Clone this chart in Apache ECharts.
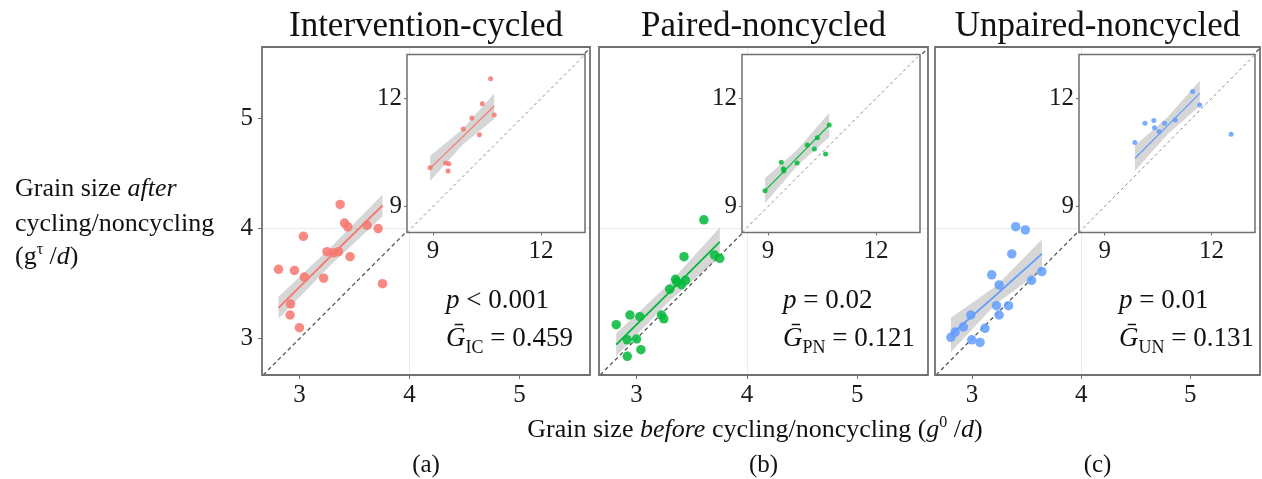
<!DOCTYPE html>
<html><head><meta charset="utf-8">
<script src="https://cdn.jsdelivr.net/npm/echarts@6/dist/echarts.min.js"></script>
<style>html,body{margin:0;padding:0;background:#fff}#c{width:1262px;height:479px}</style>
</head><body><div id="c"></div>
<script>
// ---------- data ----------
const panelTitles = ['Intervention-cycled', 'Paired-noncycled', 'Unpaired-noncycled'];
const panelLetters = ['(a)', '(b)', '(c)'];
const pOps = ['<', '=', '='];
const pVals = ['0.001', '0.02', '0.01'];
const gSubs = ['IC', 'PN', 'UN'];
const gVals = ['0.459', '0.121', '0.131'];
const mainTicks = [3, 4, 5];
const insetTicks = [9, 12];

// main scatter (g0/d, gτ/d)
const aX = [2.81, 2.955, 3.036, 3.045, 2.92, 2.915, 3.0, 3.22, 3.25, 3.31, 3.355, 3.37, 3.41, 3.44, 3.46, 3.615, 3.715, 3.755];
const aY = [3.63, 3.62, 3.93, 3.56, 3.315, 3.215, 3.10, 3.55, 3.79, 3.78, 3.79, 4.22, 4.05, 4.015, 3.745, 4.03, 4.00, 3.50];
const bX = [2.816, 2.94, 3.03, 2.916, 3.0, 2.916, 3.04, 3.226, 3.247, 3.30, 3.353, 3.365, 3.407, 3.443, 3.43, 3.61, 3.706, 3.754];
const bY = [3.127, 3.215, 3.20, 2.99, 2.997, 2.84, 2.90, 3.215, 3.18, 3.45, 3.54, 3.515, 3.49, 3.53, 3.745, 4.08, 3.76, 3.73];
const cX = [2.806, 2.845, 2.92, 2.988, 2.997, 3.073, 3.118, 3.18, 3.248, 3.224, 3.248, 3.334, 3.364, 3.40, 3.488, 3.545, 3.64];
const cY = [3.012, 3.06, 3.106, 3.215, 2.99, 2.966, 3.094, 3.58, 3.488, 3.30, 3.215, 3.30, 3.77, 4.018, 3.988, 3.53, 3.61];

// main fits with confidence band
const aFitX = [2.81, 3.28, 3.755];  const aFitY = [3.28, 3.745, 4.21];  const aLo = [3.18, 3.665, 4.11];  const aHi = [3.38, 3.825, 4.31];
const bFitX = [2.816, 3.285, 3.754]; const bFitY = [2.945, 3.41, 3.88]; const bLo = [2.84, 3.33, 3.74]; const bHi = [3.05, 3.49, 4.01];
const cFitX = [2.806, 3.223, 3.64];  const cFitY = [3.036, 3.40, 3.77];  const cLo = [2.88, 3.32, 3.62];  const cHi = [3.19, 3.48, 3.90];

// inset scatter (larger grains)
const aiX = [8.92, 9.35, 9.44, 9.42, 9.84, 10.08, 10.29, 10.37, 10.60, 10.70];
const aiY = [10.08, 10.21, 10.19, 9.99, 11.15, 11.46, 10.99, 11.85, 12.55, 11.54];
const biX = [8.92, 9.37, 9.43, 9.44, 9.81, 10.09, 10.29, 10.37, 10.60, 10.70];
const biY = [9.44, 10.23, 10.05, 9.99, 10.21, 10.71, 10.60, 10.91, 10.46, 11.26];
const ciX = [9.85, 10.13, 10.38, 10.40, 10.53, 10.68, 10.98, 11.47, 11.67, 12.55];
const ciY = [10.78, 11.31, 11.39, 11.19, 11.08, 11.31, 11.40, 12.19, 11.82, 11.01];

const aiFitX = [8.92, 9.81, 10.70];  const aiFitY = [10.06, 10.92, 11.79]; const aiLo = [9.71, 10.70, 11.43]; const aiHi = [10.40, 11.14, 12.14];
const biFitX = [8.92, 9.81, 10.70];  const biFitY = [9.44, 10.35, 11.26];  const biLo = [9.09, 10.13, 10.92]; const biHi = [9.79, 10.57, 11.60];
const ciFitX = [9.85, 10.76, 11.67]; const ciFitY = [10.34, 11.24, 12.14]; const ciLo = [9.99, 11.00, 11.79]; const ciHi = [10.69, 11.48, 12.49];

// axis ranges
const mainXRange = [2.66, 5.64];
const mainYRange = [2.67, 5.65];
const insetRange = [8.28, 13.22];

// ---------- layout / style ----------
const FONT = "'Liberation Serif', 'Times New Roman', serif";
const colors = ['#F8766D', '#00BA38', '#619CFF'];
const panelLeft = [262, 599, 935];
const panelW = [328, 329, 325];
const panelTop = 47, panelH = 328;
const insetLeft = [407, 742, 1079];
const insetW = [178, 178, 176];
const insetTop = 54.5, insetH = 178;

const mainSets = [
  {x: aX, y: aY, fx: aFitX, fy: aFitY, lo: aLo, hi: aHi},
  {x: bX, y: bY, fx: bFitX, fy: bFitY, lo: bLo, hi: bHi},
  {x: cX, y: cY, fx: cFitX, fy: cFitY, lo: cLo, hi: cHi}
];
const insetSets = [
  {x: aiX, y: aiY, fx: aiFitX, fy: aiFitY, lo: aiLo, hi: aiHi},
  {x: biX, y: biY, fx: biFitX, fy: biFitY, lo: biLo, hi: biHi},
  {x: ciX, y: ciY, fx: ciFitX, fy: ciFitY, lo: ciLo, hi: ciHi}
];

const grids = [], xAxes = [], yAxes = [], series = [], graphics = [];

function labelStyle(extra) {
  return Object.assign({fontFamily: FONT, fontSize: 25, color: '#1a1a1a'}, extra);
}

for (let i = 0; i < 3; i++) {
  grids.push({left: panelLeft[i], top: panelTop, width: panelW[i], height: panelH,
    show: true, backgroundColor: '#fff', borderWidth: 0, z: 0});
  graphics.push({type: 'rect', z: 15, silent: true,
    shape: {x: panelLeft[i], y: panelTop, width: panelW[i], height: panelH},
    style: {fill: null, stroke: '#707070', lineWidth: 1.8}});
  xAxes.push({gridIndex: i, type: 'value', min: mainXRange[0], max: mainXRange[1], splitNumber: 3,
    axisLine: {show: false},
    axisTick: {show: true, length: 4, lineStyle: {color: '#707070'}, customValues: mainTicks},
    axisLabel: labelStyle({margin: 8, customValues: mainTicks,
      formatter: v => mainTicks.includes(v) ? String(v) : ''}),
    splitLine: {show: true, showMinLine: false, showMaxLine: false, lineStyle: {color: '#ebebeb', width: 1}}});
  yAxes.push({gridIndex: i, type: 'value', min: mainYRange[0], max: mainYRange[1], splitNumber: 3,
    axisLine: {show: false},
    axisTick: {show: i === 0, length: 4, lineStyle: {color: '#707070'}, customValues: mainTicks},
    axisLabel: labelStyle({show: i === 0, margin: 9, customValues: mainTicks,
      formatter: v => mainTicks.includes(v) ? String(v) : ''}),
    splitLine: {show: true, showMinLine: false, showMaxLine: false, lineStyle: {color: '#ebebeb', width: 1}}});
}
for (let i = 0; i < 3; i++) {
  grids.push({left: insetLeft[i], top: insetTop, width: insetW[i], height: insetH,
    show: true, backgroundColor: '#fff', borderWidth: 0, z: 5});
  graphics.push({type: 'rect', z: 16, silent: true,
    shape: {x: insetLeft[i], y: insetTop, width: insetW[i], height: insetH},
    style: {fill: null, stroke: '#707070', lineWidth: 1.5}});
  const ax = {gridIndex: 3 + i, type: 'value', min: insetRange[0], max: insetRange[1], splitNumber: 5, z: 6,
    axisLine: {show: false},
    axisTick: {show: true, length: 3, lineStyle: {color: '#707070'}, customValues: insetTicks},
    axisLabel: labelStyle({margin: 6, customValues: insetTicks,
      formatter: v => insetTicks.includes(v) ? String(v) : ''}),
    splitLine: {show: true, showMinLine: false, showMaxLine: false, lineStyle: {color: '#ebebeb', width: 1}}};
  xAxes.push(Object.assign({}, ax));
  yAxes.push(Object.assign({}, ax, {axisLabel: Object.assign({}, ax.axisLabel, {margin: 5})}));
}

function bandSeries(set, idx, z) {
  return {
    type: 'custom', xAxisIndex: idx, yAxisIndex: idx, silent: true, z: z,
    data: set.fx.map((x, k) => [x, set.lo[k], set.hi[k]]),
    encode: {x: 0, y: [1, 2]},
    renderItem: function (params, api) {
      if (params.dataIndex !== 0) return null;
      const pts = [];
      for (let k = 0; k < set.fx.length; k++) pts.push(api.coord([set.fx[k], set.hi[k]]));
      for (let k = set.fx.length - 1; k >= 0; k--) pts.push(api.coord([set.fx[k], set.lo[k]]));
      return {type: 'polygon', shape: {points: pts}, style: {fill: 'rgba(153,153,153,0.4)'}};
    }
  };
}

function addPanelSeries(set, idx, color, isInset, range) {
  const zb = isInset ? 7 : 1;
  const lo = Math.max(range[0][0], range[1][0]), hi = Math.min(range[0][1], range[1][1]);
  series.push({type: 'line', xAxisIndex: idx, yAxisIndex: idx, silent: true, symbol: 'none', z: zb,
    data: [[lo, lo], [hi, hi]],
    lineStyle: isInset ? {color: '#8a8a8a', width: 1, type: [3, 3]} : {color: '#555', width: 1.3, type: [4, 3]}});
  series.push(bandSeries(set, idx, zb + 1));
  series.push({type: 'line', xAxisIndex: idx, yAxisIndex: idx, silent: true, symbol: 'none', z: zb + 2,
    data: set.fx.map((x, k) => [x, set.fy[k]]),
    lineStyle: {color: color, width: isInset ? 1.2 : 1.8}});
  series.push({type: 'scatter', xAxisIndex: idx, yAxisIndex: idx, silent: true, z: zb + 3,
    symbolSize: isInset ? 5 : 9.5,
    data: set.x.map((x, k) => [x, set.y[k]]),
    itemStyle: {color: color, opacity: 0.85}});
}

for (let i = 0; i < 3; i++) {
  addPanelSeries(mainSets[i], i, colors[i], false, [mainXRange, mainYRange]);
  addPanelSeries(insetSets[i], 3 + i, colors[i], true, [insetRange, insetRange]);
}

// ---------- text ----------
for (let i = 0; i < 3; i++) {
  const cx = panelLeft[i] + panelW[i] / 2;
  graphics.push({type: 'text', x: cx, y: 27, z: 20,
    style: {text: panelTitles[i], font: '35px ' + FONT, fill: '#111', align: 'center', verticalAlign: 'middle'}});
  graphics.push({type: 'text', x: cx, y: 465, z: 20,
    style: {text: panelLetters[i], font: '25px ' + FONT, fill: '#111', align: 'center', verticalAlign: 'middle'}});
  const ax = panelLeft[i] + 184;
  graphics.push({type: 'text', x: ax, y: 301, z: 20,
    style: {text: '{i|p}{n| ' + pOps[i] + ' ' + pVals[i] + '}', align: 'left', verticalAlign: 'middle',
      rich: {i: {fontFamily: FONT, fontSize: 27, fontStyle: 'italic', fill: '#111', lineHeight: 36},
             n: {fontFamily: FONT, fontSize: 27, fill: '#111', lineHeight: 36}}}});
  graphics.push({type: 'text', x: ax, y: 339, z: 20,
    style: {text: '{i|Ḡ}{s|' + gSubs[i] + '}{n| = ' + gVals[i] + '}', align: 'left', verticalAlign: 'middle',
      rich: {i: {fontFamily: FONT, fontSize: 27, fontStyle: 'italic', fill: '#111', lineHeight: 36},
             s: {fontFamily: FONT, fontSize: 18, fill: '#111', lineHeight: 18, verticalAlign: 'bottom'},
             n: {fontFamily: FONT, fontSize: 27, fill: '#111', lineHeight: 36}}}});
}
const yTitleRich = {
  r: {fontFamily: FONT, fontSize: 26, fill: '#111', lineHeight: 30},
  i: {fontFamily: FONT, fontSize: 26, fontStyle: 'italic', fill: '#111', lineHeight: 30},
  sup: {fontFamily: FONT, fontSize: 16, fill: '#111', lineHeight: 16, verticalAlign: 'top'}
};
graphics.push({type: 'text', x: 15, y: 189.5, z: 20,
  style: {text: '{r|Grain size }{i|after}', align: 'left', verticalAlign: 'middle', rich: yTitleRich}});
graphics.push({type: 'text', x: 15, y: 224, z: 20,
  style: {text: '{r|cycling/noncycling}', align: 'left', verticalAlign: 'middle', rich: yTitleRich}});
graphics.push({type: 'text', x: 15, y: 257, z: 20,
  style: {text: '{r|(g}{sup|τ}{r| /}{i|d}{r|)}', align: 'left', verticalAlign: 'middle', rich: yTitleRich}});
graphics.push({type: 'text', x: 755, y: 430, z: 20,
  style: {text: '{r|Grain size }{i|before}{r| cycling/noncycling (}{i|g}{sup|0}{r| /}{i|d}{r|)}',
    align: 'center', verticalAlign: 'middle', rich: yTitleRich}});

const chart = echarts.init(document.getElementById('c'), null, {renderer: 'canvas'});
chart.setOption({
  animation: false,
  backgroundColor: '#fff',
  grid: grids, xAxis: xAxes, yAxis: yAxes, series: series, graphic: graphics
});
</script></body></html>
